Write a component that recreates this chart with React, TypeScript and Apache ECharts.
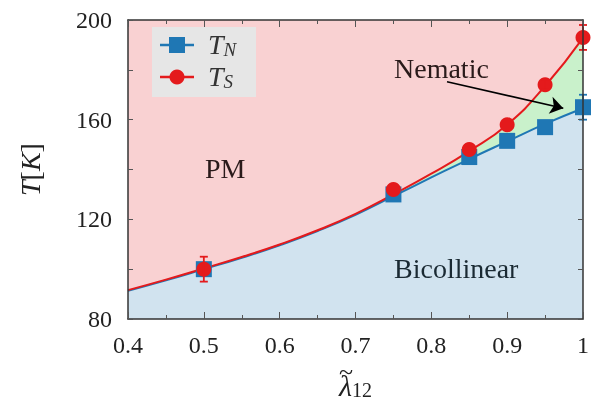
import React, { useEffect, useRef } from "react";
import * as echarts from "echarts";

// measured data points
const lambdaPts = [0.5, 0.75, 0.85, 0.9, 0.95, 1.0];
const tN = [100, 130, 145, 151.5, 157, 165];
const tNErr = [0, 0, 0, 0, 1.5, 5];
const tS = [100, 132, 148, 158, 174, 193];
const tSErr = [5, 0, 0, 0, 2, 5];

// fitted curves
const curveX = [0.4, 0.45, 0.5, 0.55, 0.6, 0.65, 0.7, 0.75, 0.8, 0.85, 0.9, 0.95, 1.0];
const curveN = [91.3, 95.5, 100.0, 104.6, 109.6, 115.3, 121.8, 129.3, 136.8, 144.2, 151.3, 158.3, 164.6];
const curveS = [91.6, 95.8, 100.3, 104.9, 109.9, 115.6, 122.2, 130.0, 138.3, 147.4, 158.0, 173.5, 192.8];

const xTicksLabel = (v: number) => (Math.abs(v - 1) < 1e-9 ? "1" : v.toFixed(1));
const yTicksLabel = (v: number) => (Math.round(v) % 40 === 0 ? String(Math.round(v)) : "");

const BLUE = "#1f77b4";
const RED = "#e41a1c";
const FONT = "'Liberation Serif', 'DejaVu Serif', serif";

export default function App() {
  const ref = useRef<HTMLDivElement>(null);
  useEffect(() => {
    document.body.style.margin = "0";
    const chart = echarts.init(ref.current!, null, { renderer: "svg" });
    const pair = (xs: number[], ys: number[]) => xs.map((x, i) => [x, ys[i]]);
    const errData = (ys: number[], es: number[]) =>
      lambdaPts.map((x, i) => [x, ys[i] - es[i], ys[i] + es[i]]).filter((d, i) => es[i] > 0);
    const errSeries = (data: number[][], color: string, z: number) => ({
      type: "custom",
      z,
      clip: false,
      data,
      renderItem: (params: any, api: any) => {
        const lo = api.coord([api.value(0), api.value(1)]);
        const hi = api.coord([api.value(0), api.value(2)]);
        const w = 4;
        const st = { stroke: color, lineWidth: 1.8 };
        return {
          type: "group",
          children: [
            { type: "line", shape: { x1: lo[0], y1: lo[1], x2: hi[0], y2: hi[1] }, style: st },
            { type: "line", shape: { x1: lo[0] - w, y1: lo[1], x2: lo[0] + w, y2: lo[1] }, style: st },
            { type: "line", shape: { x1: hi[0] - w, y1: hi[1], x2: hi[0] + w, y2: hi[1] }, style: st },
          ],
        };
      },
    });
    const axisCommon = {
      z: 10,
      axisLine: { show: true, lineStyle: { color: "#333", width: 1.5 } },
      splitLine: { show: false },
    };
    const xAxisBase = {
      ...axisCommon,
      type: "value",
      min: 0.4,
      max: 1.0,
      interval: 0.1,
      axisTick: { inside: true, length: 7, lineStyle: { color: "#555", width: 1 } },
      minorTick: { show: true, splitNumber: 2, length: 4, lineStyle: { color: "#555", width: 1 } },
    };
    const yAxisBase = {
      ...axisCommon,
      type: "value",
      min: 80,
      max: 200,
      interval: 20,
      axisTick: { inside: true, length: 5, lineStyle: { color: "#555", width: 1 } },
    };
    const legendRich = {
      i: { fontFamily: FONT, fontStyle: "italic", fontSize: 28, fill: "#333", lineHeight: 30 },
      s: { fontFamily: FONT, fontStyle: "italic", fontSize: 19, fill: "#333", lineHeight: 8, verticalAlign: "bottom" },
    };
    chart.setOption({
      animation: false,
      grid: {
        left: 128,
        right: 10,
        top: 20,
        bottom: 86,
        show: true,
        borderWidth: 0,
        backgroundColor: "#f9d1d2",
        outerBoundsMode: "none",
        containLabel: false,
      },
      xAxis: [
        {
          ...xAxisBase,
          position: "bottom",
          axisLabel: { formatter: xTicksLabel, fontFamily: FONT, fontSize: 24, color: "#222", margin: 14 },
          name: "{i|λ}{s|12}",
          nameLocation: "middle",
          nameGap: 51,
          nameTextStyle: {
            rich: {
              i: { fontFamily: FONT, fontStyle: "italic", fontSize: 30, color: "#222", lineHeight: 30, verticalAlign: "middle" },
              s: { fontFamily: FONT, fontSize: 20, color: "#222", lineHeight: 4, verticalAlign: "bottom" },
            },
          },
        },
        { ...xAxisBase, position: "top", axisLabel: { show: false } },
      ],
      yAxis: [
        {
          ...yAxisBase,
          position: "left",
          axisLabel: { formatter: yTicksLabel, fontFamily: FONT, fontSize: 24, color: "#222", margin: 16 },
          name: "{i|T}{n|[}{i|K}{n|]}",
          nameLocation: "middle",
          nameGap: 84,
          nameTextStyle: {
            rich: {
              i: { fontFamily: FONT, fontStyle: "italic", fontSize: 28, color: "#222" },
              n: { fontFamily: FONT, fontSize: 28, color: "#222" },
            },
          },
        },
        { ...yAxisBase, position: "right", axisLabel: { show: false } },
      ],
      series: [
        {
          name: "S-area",
          type: "line",
          data: pair(curveX, curveS),
          smooth: true,
          symbol: "none",
          lineStyle: { width: 0 },
          areaStyle: { color: "#c9f1cb", opacity: 1 },
          z: 1,
        },
        {
          name: "N-curve",
          type: "line",
          data: pair(curveX, curveN),
          smooth: true,
          symbol: "none",
          lineStyle: { width: 2, color: BLUE },
          areaStyle: { color: "#d1e3ef", opacity: 1 },
          z: 2,
        },
        {
          name: "S-curve",
          type: "line",
          data: pair(curveX, curveS),
          smooth: true,
          symbol: "none",
          lineStyle: { width: 2, color: RED },
          z: 3,
          markLine: {
            silent: true,
            symbol: ["none", "arrow"],
            symbolSize: 13,
            label: { show: false },
            lineStyle: { color: "#000", width: 1.6, type: "solid" },
            data: [[{ coord: [0.8207, 175.2] }, { coord: [0.974, 164.6] }]],
          },
        },
        errSeries(errData(tN, tNErr), BLUE, 4),
        {
          name: "TN",
          type: "scatter",
          data: pair(lambdaPts, tN),
          symbol: "rect",
          symbolSize: 16,
          itemStyle: { color: BLUE, opacity: 1 },
          clip: false,
          z: 5,
        },
        {
          name: "TS",
          type: "scatter",
          data: pair(lambdaPts, tS),
          symbol: "circle",
          symbolSize: 15,
          itemStyle: { color: RED, opacity: 1 },
          clip: false,
          z: 6,
        },
        errSeries(errData(tS, tSErr), RED, 7),
      ],
      graphic: [
        { type: "rect", z: 20, shape: { x: 152, y: 27, width: 104, height: 70 }, style: { fill: "#e6e6e6" } },
        { type: "line", z: 21, shape: { x1: 160, y1: 45, x2: 194, y2: 45 }, style: { stroke: BLUE, lineWidth: 2.5 } },
        { type: "rect", z: 22, shape: { x: 169, y: 37, width: 16, height: 16 }, style: { fill: BLUE } },
        { type: "line", z: 21, shape: { x1: 160, y1: 77, x2: 194, y2: 77 }, style: { stroke: RED, lineWidth: 2.5 } },
        { type: "circle", z: 22, shape: { cx: 177, cy: 77, r: 7.5 }, style: { fill: RED } },
        {
          type: "text",
          z: 22,
          x: 208,
          y: 44,
          style: { text: "{i|T}{s|N}", textVerticalAlign: "middle", rich: legendRich },
        },
        {
          type: "text",
          z: 22,
          x: 208,
          y: 76,
          style: { text: "{i|T}{s|S}", textVerticalAlign: "middle", rich: legendRich },
        },
        {
          type: "text", z: 20, x: 346, y: 371,
          style: { text: "~", fontFamily: FONT, fontSize: 26, fill: "#222", textAlign: "center", textVerticalAlign: "middle" },
        },
        {
          type: "text", z: 20, x: 205, y: 168,
          style: { text: "PM", fontFamily: FONT, fontSize: 28, fill: "#2a1a1a", textVerticalAlign: "middle" },
        },
        {
          type: "text", z: 20, x: 394, y: 68,
          style: { text: "Nematic", fontFamily: FONT, fontSize: 28, fill: "#2a1a1a", textVerticalAlign: "middle" },
        },
        {
          type: "text", z: 20, x: 394, y: 268,
          style: { text: "Bicollinear", fontFamily: FONT, fontSize: 28, fill: "#1a2a33", textVerticalAlign: "middle" },
        },
      ],
    });
    return () => chart.dispose();
  }, []);
  return <div ref={ref} style={{ position: "fixed", left: 0, top: 0, width: 593, height: 405 }} />;
}
